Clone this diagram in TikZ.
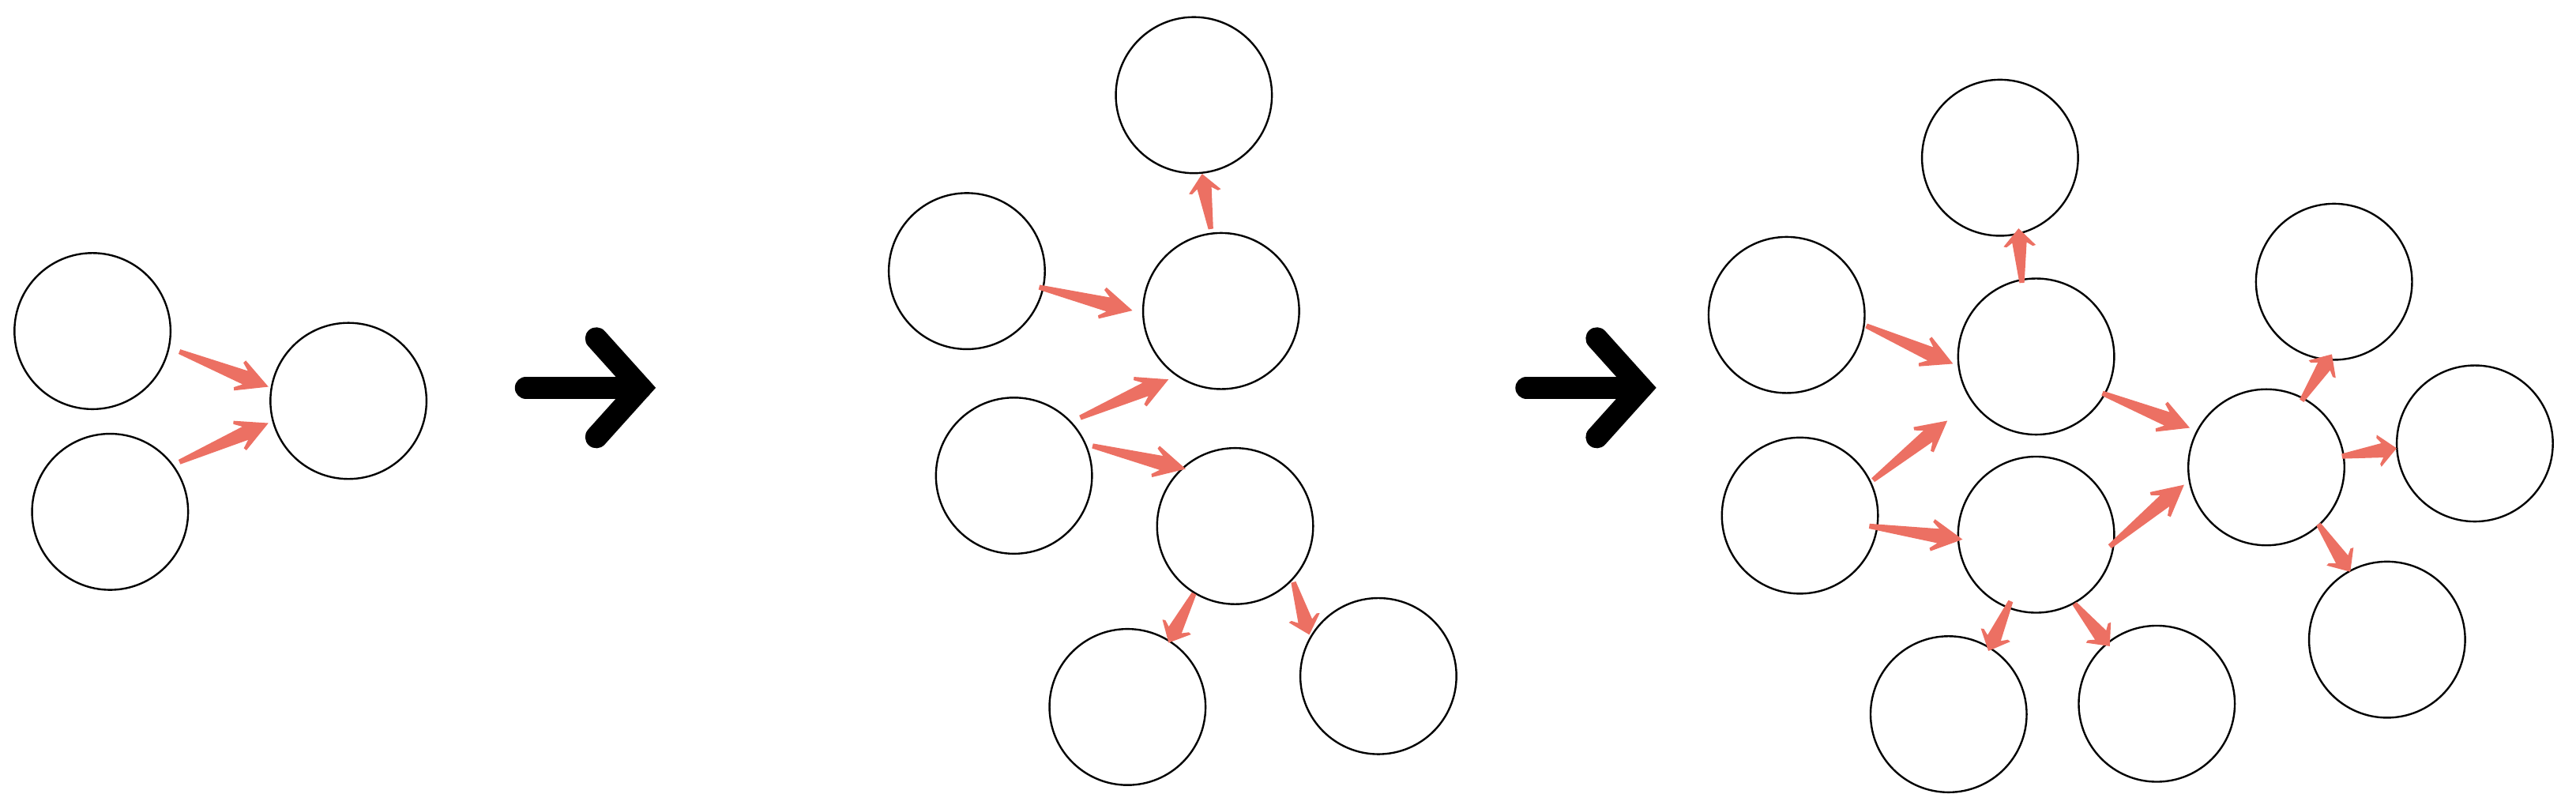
\documentclass[tikz,border=0pt]{standalone}
\usetikzlibrary{calc}
\definecolor{arrowred}{RGB}{236,112,99}
\tikzset{
  bubble/.style={circle, draw=black, line width=1.15pt, minimum size=95pt, inner sep=0pt},
  bigarrow/.style={draw=black, line width=13.6pt, line cap=round, line join=miter},
}
% tapered red arrow: #1 source node, #2 offset of tail, #3 target node, #4 offset of tip
\newcommand\rarr[4]{%
  \fill[arrowred] let \p1=($(#1)+(#2)$), \p2=($(#3)+(#4)$),
    \n1={atan2(\y2-\y1,\x2-\x1)}, \n2={veclen(\x2-\x1,\y2-\y1)} in
    [shift={(\p1)}, rotate=\n1]
    (0pt,1.5pt) -- ({0.74*\n2*1pt},4.4pt) -- ({0.665*\n2*1pt},8pt) -- ({0.68*\n2*1pt},9.8pt) -- ({\n2*1pt},0pt)
    -- ({0.68*\n2*1pt},-9.8pt) -- ({0.665*\n2*1pt},-8pt) -- ({0.74*\n2*1pt},-4.4pt) -- (0pt,-1.5pt) -- cycle;}
\begin{document}
\begin{tikzpicture}[x=1pt,y=-1pt]
\useasboundingbox (0,0) rectangle (1568,492);
% ---------- panel 1
\node[bubble] (a1) at (56.3,201.5) {};
\node[bubble] (b1) at (67,311.5) {};
\node[bubble] (c1) at (212.1,244) {};
\rarr{a1}{52.9,12.5}{c1}{-48.7,-8.6}
\rarr{b1}{42.2,-30.3}{c1}{-48.7,13.5}
% ---------- big arrow 1
\draw[bigarrow] (320.2,236) -- (390,236);
\draw[bigarrow] (363,206) -- (390,236) -- (363,266);
% ---------- panel 2
\node[bubble] (t2) at (726.7,57.9) {};
\node[bubble] (l21) at (588.5,165) {};
\node[bubble] (m21) at (743.3,189.3) {};
\node[bubble] (l22) at (617.2,289.5) {};
\node[bubble] (m22) at (751.8,320.2) {};
\node[bubble] (d21) at (686.3,430.3) {};
\node[bubble] (d22) at (839,411.5) {};
\rarr{m21}{-6.3,-49.9}{t2}{5,47.9}
\rarr{l21}{44,9.8}{m21}{-54,-0.3}
\rarr{l22}{40.3,-35.3}{m21}{-32,41.6}
\rarr{l22}{47.8,-18.1}{m22}{-30.1,-34.8}
\rarr{m22}{-25,41}{d21}{25,-39.1}
\rarr{m22}{35.5,34.1}{d22}{-42,-25.2}
% ---------- big arrow 2
\draw[bigarrow] (929.2,236) -- (999,236);
\draw[bigarrow] (972,206) -- (999,236) -- (972,266);
% ---------- panel 3
\node[bubble] (t3) at (1217.4,96) {};
\node[bubble] (p31) at (1087.5,191.7) {};
\node[bubble] (q31) at (1239.4,217) {};
\node[bubble] (p32) at (1095.6,313.8) {};
\node[bubble] (q32) at (1239.4,325.4) {};
\node[bubble] (e31) at (1186.1,434.7) {};
\node[bubble] (e32) at (1312.8,428.3) {};
\node[bubble] (r3) at (1379.5,284.4) {};
\node[bubble] (rt3) at (1420.7,171.5) {};
\node[bubble] (rr3) at (1506.4,269.9) {};
\node[bubble] (rb3) at (1453,389.3) {};
\rarr{q31}{-8.7,-44.8}{t3}{11.3,43}
\rarr{p31}{48.5,6.6}{q31}{-50.6,4.4}
\rarr{p32}{44.5,-21.6}{q31}{-54,39}
\rarr{p32}{42.2,6.4}{q32}{-44.8,2.9}
\rarr{q31}{40.3,22.3}{r3}{-46.6,-24}
\rarr{q32}{44.8,7.2}{r3}{-50,10.6}
\rarr{q32}{-15.5,40.5}{e31}{24.2,-38.5}
\rarr{q32}{23.3,41.9}{e32}{-28.6,-35}
\rarr{r3}{21.5,-40.5}{rt3}{-1.3,44.1}
\rarr{r3}{46,-6.7}{rr3}{-47.6,2.9}
\rarr{r3}{31.7,34.6}{rb3}{-22.4,-41.3}
\end{tikzpicture}
\end{document}
